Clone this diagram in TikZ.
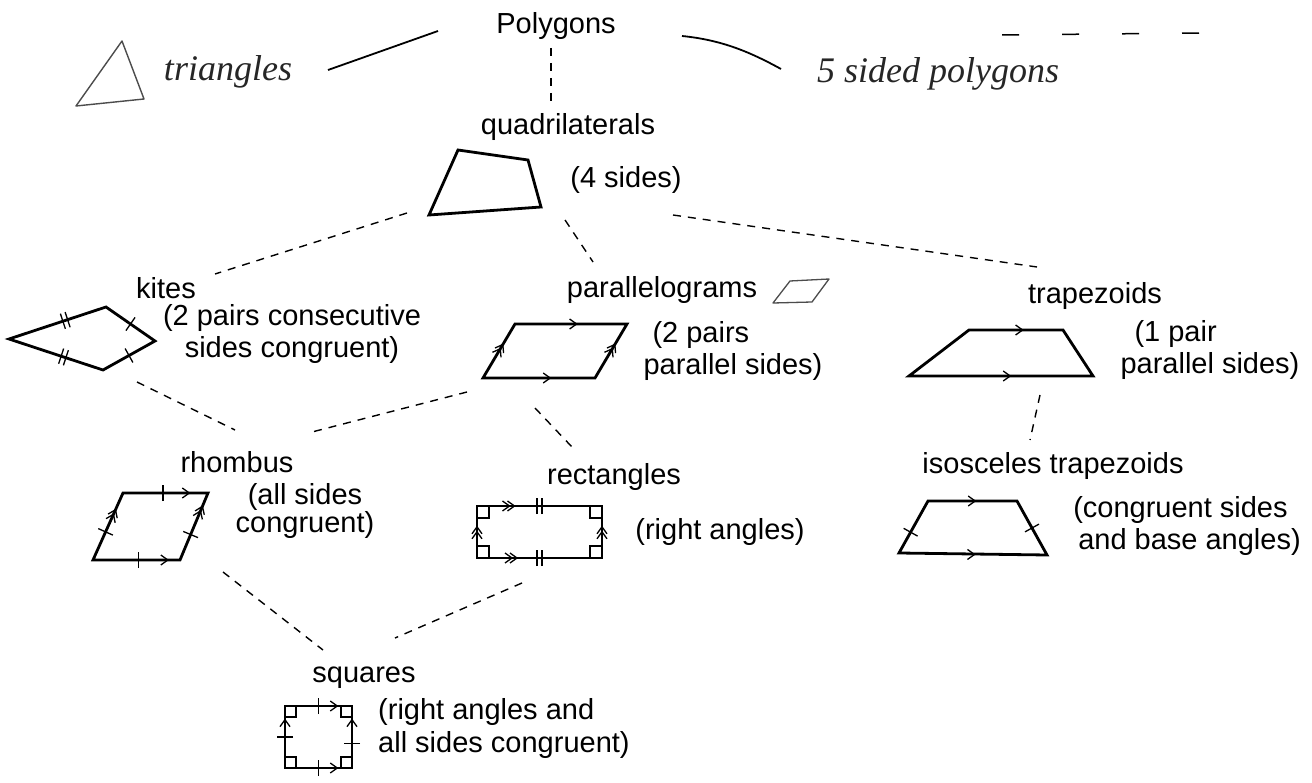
\documentclass[tikz,border=0pt]{standalone}
\usepackage{fontspec}
\setmainfont{Liberation Sans}
\newfontfamily\handfont{Liberation Serif}
\usetikzlibrary{decorations.markings}
\begin{document}
\begin{tikzpicture}[x=1pt,y=-1pt,
  lbl/.style={font=\fontsize{29}{30}\selectfont, inner sep=0pt},
  ml/.style={lbl, align=center},
  mll/.style={lbl, align=left},
  hand/.style={font=\handfont\itshape\fontsize{36}{40}\selectfont, inner sep=0pt, text=black!85},
  shp/.style={draw, line width=2.8pt, line join=miter},
  thinshp/.style={draw, line width=1.4pt, black!70, line join=round},
  conn/.style={draw, line width=1.4pt, dash pattern=on 8pt off 7pt},
  mk/.style={line width=1.3pt},
  tkone/.style={decorate, decoration={markings, mark=at position #1 with {\draw[mk] (0pt,-8pt) -- (0pt,8pt);}}},
  tktwo/.style={decorate, decoration={markings, mark=at position #1 with {\draw[mk] (-2.5pt,-8pt) -- (-2.5pt,8pt) (2.5pt,-8pt) -- (2.5pt,8pt);}}},
  arone/.style={decorate, decoration={markings, mark=at position #1 with {\draw[mk] (-7pt,5pt) -- (0pt,0pt) -- (-7pt,-5pt);}}},
  artwo/.style={decorate, decoration={markings, mark=at position #1 with {\draw[mk] (-7pt,5pt) -- (0pt,0pt) -- (-7pt,-5pt) (-12pt,5pt) -- (-5pt,0pt) -- (-12pt,-5pt);}}},
]
\useasboundingbox (0,0) rectangle (1312,783);
\fill[white] (0,0) rectangle (1312,783);

% ---------- top row
\draw[thinshp] (122,41) -- (76,106) -- (144,99) -- cycle;
\node[hand] (tri) at (228,72) {triangles};
\node[lbl] (poly) at (556,26) {Polygons};
\node[hand] (five) at (938,74) {5 sided polygons};
\coordinate (pl1) at (328,70); \coordinate (pl2) at (438,31);
\coordinate (pr1) at (682,36); \coordinate (pr2) at (781,69);
\coordinate (d1) at (1002,35); \coordinate (d2) at (1200,33);
\draw[line width=1.8pt] (pl1) -- (pl2);
\draw[line width=1.8pt] (pr1) .. controls (722,40) and (750,52) .. (pr2);
\draw[line width=1.5pt, dash pattern=on 17pt off 43pt] (d1) -- (d2);

% ---------- quadrilaterals
\node[lbl] (quad) at (568,127) {quadrilaterals};
\node[lbl] (four) at (626,180) {(4 sides)};
\draw[shp] (458,150) -- (528,160) -- (541,207) -- (429,215) -- cycle;
\coordinate (pv1) at (551,48); \coordinate (pv2) at (551,103);
\draw[conn] (pv1) -- (pv2);

% ---------- kites
\node[lbl] (kites) at (166,288) {kites};
\node[ml, font=\fontsize{29}{32}\selectfont] (kitet) at (292,334) {(2 pairs consecutive\\sides congruent)};
\draw[shp] (9,339) -- (106,307) -- (155,341) -- (103,370) -- cycle;
\path[tktwo=0.58] (9,339) -- (106,307);
\path[tktwo=0.58] (9,339) -- (103,370);
\path[tkone=0.5] (106,307) -- (155,341);
\path[tkone=0.5] (155,341) -- (103,370);

% ---------- parallelograms
\node[lbl] (para) at (662,290) {parallelograms};
\draw[thinshp, line width=1.3pt] (773,303) -- (790,281) -- (829,279) -- (812,302) -- cycle;
\node[mll, font=\fontsize{29}{32}\selectfont] (parat) at (733,351) {\hspace{9pt}(2 pairs\\parallel sides)};
\draw[shp] (483,378) -- (515,324) -- (627,324) -- (595,378) -- cycle;
\path[artwo=0.62] (483,378) -- (515,324);
\path[artwo=0.62] (595,378) -- (627,324);
\path[arone=0.55] (515,324) -- (627,324);
\path[arone=0.6] (483,378) -- (595,378);

% ---------- trapezoids
\node[lbl] (trap) at (1095,296) {trapezoids};
\node[mll, font=\fontsize{29}{32}\selectfont] (trapt) at (1210,350) {\hspace{14pt}(1 pair\\parallel sides)};
\draw[shp] (909,376) -- (969,330) -- (1063,330) -- (1093,376) -- cycle;
\path[arone=0.57] (969,330) -- (1063,330);
\path[arone=0.55] (909,376) -- (1093,376);

% ---------- isosceles trapezoids
\node[lbl] (iso) at (1053,466) {isosceles trapezoids};
\node[mll, font=\fontsize{29}{32}\selectfont] (isot) at (1187,526) {(congruent sides\\\hspace{5pt}and base angles)};
\draw[shp] (899,553) -- (928,501) -- (1017,501) -- (1047,555) -- cycle;
\path[arone=0.53] (928,501) -- (1017,501);
\path[arone=0.51] (899,554) -- (1047,555);
\path[tkone=0.4] (899,553) -- (928,501);
\path[tkone=0.5] (1017,501) -- (1047,555);

% ---------- rhombus
\node[lbl] (rhom) at (237,462) {rhombus};
\node[ml, font=\fontsize{29}{27}\selectfont] (rhomt) at (305,511) {(all sides\\congruent)};
\draw[shp] (93,560) -- (123,493) -- (208,493) -- (180,560) -- cycle;
\path[tkone=0.47] (123,493) -- (208,493);
\path[arone=0.78] (123,493) -- (208,493);
\path[tkone=0.52] (93,560) -- (180,560);
\path[arone=0.86] (93,560) -- (180,560);
\path[tkone=0.42] (93,560) -- (123,493);
\path[artwo=0.75] (93,560) -- (123,493);
\path[tkone=0.38] (180,560) -- (208,493);
\path[artwo=0.8] (180,560) -- (208,493);

% ---------- rectangles
\node[lbl] (rect) at (614,477) {rectangles};
\node[lbl] (rectt) at (720,532) {(right angles)};
\draw[shp] (477,506) rectangle (602,558);
\draw[mk] (477,518) -| (489,506) (590,506) |- (602,518) (602,546) -| (590,558) (489,558) |- (477,546);
\path[tktwo=0.5] (477,506) -- (602,506);
\path[tktwo=0.5] (477,558) -- (602,558);
\path[artwo=0.3] (477,506) -- (602,506);
\path[artwo=0.32] (477,558) -- (602,558);
\path[artwo=0.6] (477,558) -- (477,506);
\path[artwo=0.6] (602,558) -- (602,506);

% ---------- squares
\node[lbl] (sq) at (364,678) {squares};
\node[mll, font=\fontsize{29}{33}\selectfont, anchor=west] (sqt) at (378,728) {(right angles and\\all sides congruent)};
\draw[shp] (285,706) rectangle (352,768);
\draw[mk] (285,717) -| (296,706) (341,706) |- (352,717) (352,757) -| (341,768) (296,768) |- (285,757);
\path[tkone=0.5] (285,706) -- (352,706);
\path[tkone=0.5] (285,768) -- (352,768);
\path[tkone=0.5] (285,768) -- (285,706);
\path[tkone=0.4] (352,768) -- (352,706);
\path[arone=0.78] (285,706) -- (352,706);
\path[arone=0.78] (285,768) -- (352,768);
\path[arone=0.78] (285,768) -- (285,706);
\path[arone=0.78] (352,768) -- (352,706);

% ---------- dashed connectors
\coordinate (qk) at (407,213); \coordinate (kq) at (215,274);
\coordinate (qp) at (565,220); \coordinate (pq) at (593,262);
\coordinate (qt) at (673,215); \coordinate (tq) at (1037,267);
\coordinate (ti) at (1040,395); \coordinate (it) at (1030,440);
\coordinate (kr) at (137,382); \coordinate (rk) at (235,430);
\coordinate (pr) at (467,392); \coordinate (rp) at (312,432);
\coordinate (pc) at (535,408); \coordinate (cp) at (572,447);
\coordinate (rs) at (223,572); \coordinate (sr) at (323,650);
\coordinate (cs) at (522,583); \coordinate (sc) at (395,638);
\draw[conn] (qk) -- (kq);
\draw[conn] (qp) -- (pq);
\draw[conn] (qt) -- (tq);
\draw[conn] (ti) -- (it);
\draw[conn] (kr) -- (rk);
\draw[conn] (pr) -- (rp);
\draw[conn] (pc) -- (cp);
\draw[conn] (rs) -- (sr);
\draw[conn] (cs) -- (sc);
\end{tikzpicture}
\end{document}
